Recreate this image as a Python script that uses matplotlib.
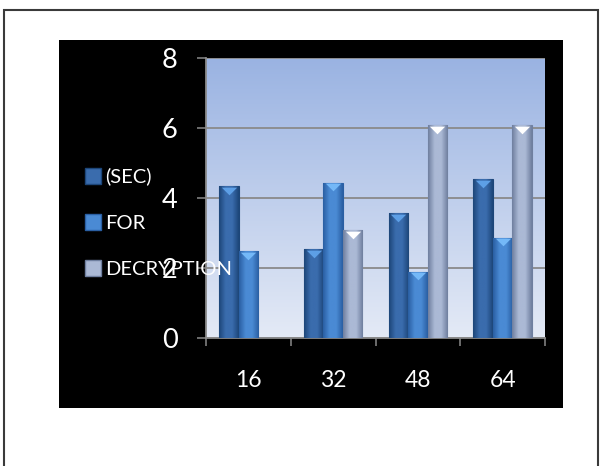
import numpy as np
import matplotlib.pyplot as plt
from matplotlib.colors import LinearSegmentedColormap
from matplotlib.lines import Line2D
from matplotlib.patches import Rectangle
from matplotlib.path import Path
from matplotlib.transforms import ScaledTranslation

categories = ["16", "32", "48", "64"]
series_names = ["(SEC)", "FOR", "DECRYPTION"]
sec_values = [4.34, 2.54, 3.58, 4.55]
for_values = [2.49, 4.44, 1.90, 2.87]
decryption_values = [0, 3.08, 6.08, 6.08]
y_ticks = [0, 2, 4, 6, 8]

plt.rcParams['font.family'] = ['Lato', 'DejaVu Sans']

series = [sec_values, for_values, decryption_values]
# edge colour, centre colour, cap colour
bar_styles = [
    ("#1d4679", "#3a6cad", "#5d9fe6"),
    ("#2a5fa3", "#4a8ad4", "#74b8f7"),
    ("#6f7f9f", "#abb9d5", "#ffffff"),
]

W, H = 601, 466
fig = plt.figure(figsize=(W / 100, H / 100), dpi=100)

# page frame (open at the bottom) and the black chart box, kept behind the axes
fig.patches.append(Rectangle((3.5 / W, -0.05), 594.5 / W, 1.05 - 10 / H, fill=False,
                             edgecolor="#3a3a3a", lw=1.5, transform=fig.transFigure, zorder=-10))
fig.patches.append(Rectangle((59 / W, 1 - 408 / H), 504 / W, 368 / H, facecolor="black",
                             edgecolor="none", transform=fig.transFigure, zorder=-9))

ax = fig.add_axes([206 / W, 1 - 338 / H, 339 / W, 280 / H])
ax.set_facecolor("none")

# plot area gradient
bg_cmap = LinearSegmentedColormap.from_list("bg", ["#e4eaf6", "#9ab3e2"])
ax.imshow(np.linspace(0, 1, 256).reshape(-1, 1), extent=[0, 1, 0, 1], transform=ax.transAxes,
          origin="lower", aspect="auto", cmap=bg_cmap, zorder=0)

x = np.arange(len(categories))
width = 0.23
cap_marker = Path([(-1, 0.5), (1, 0.5), (0, -0.5), (-1, 0.5)],
                  [Path.MOVETO, Path.LINETO, Path.LINETO, Path.CLOSEPOLY])
cap_shift = ax.transData + ScaledTranslation(0, -3.5 / 72, fig.dpi_scale_trans)

for i, (vals, (edge, centre, cap)) in enumerate(zip(series, bar_styles)):
    xs = x + (i - 1) * width
    bars = ax.bar(xs, vals, width, color=centre, edgecolor=edge, lw=0.8, zorder=3)
    # cylinder shading across each bar
    shade = LinearSegmentedColormap.from_list(f"s{i}", [edge, centre, centre, edge])
    for b in bars:
        if b.get_height() <= 0:
            continue
        im = ax.imshow(np.linspace(0, 1, 64).reshape(1, -1), cmap=shade, aspect="auto",
                       extent=[b.get_x(), b.get_x() + b.get_width(), 0, b.get_height()],
                       zorder=3.5)
        im.set_clip_path(b)
    shown = [(px, v) for px, v in zip(xs, vals) if v > 0]
    ax.plot([p[0] for p in shown], [p[1] for p in shown], ls="none", marker=cap_marker,
            ms=11, color=cap, mec="none", transform=cap_shift, zorder=4)

ax.set_xlim(-0.5, len(categories) - 0.5)
ax.set_ylim(0, 8)
ax.set_yticks(y_ticks)
ax.set_xticks(x, categories)
ax.set_xticks(np.arange(-0.5, len(categories), 1), minor=True)

ax.set_axisbelow(True)
ax.yaxis.grid(True, color="#8a8a8a", lw=1.3)
for side in ["top", "right"]:
    ax.spines[side].set_visible(False)
for side in ["left", "bottom"]:
    ax.spines[side].set_color("#8a8a8a")
    ax.spines[side].set_linewidth(1.3)

ax.tick_params(axis="y", length=6.5, width=1.1, color="#8a8a8a", labelcolor="white",
               labelsize=19.5, pad=14)
ax.tick_params(axis="x", which="major", length=0, labelcolor="white", labelsize=16.5, pad=23)
ax.tick_params(axis="x", which="minor", length=6, width=1.1, color="#8a8a8a")

handles = [Line2D([], [], ls="none", marker="s", ms=11, mfc=c, mec=e)
           for e, c, _ in bar_styles]
fig.legend(handles, series_names, loc="center left", bbox_to_anchor=(75 / W, 1 - 223 / H),
           frameon=False, labelcolor="white", fontsize=14.5, handlelength=0.8,
           handletextpad=0.2, labelspacing=1.45, borderpad=0)

fig.savefig("out.png", dpi=100)
